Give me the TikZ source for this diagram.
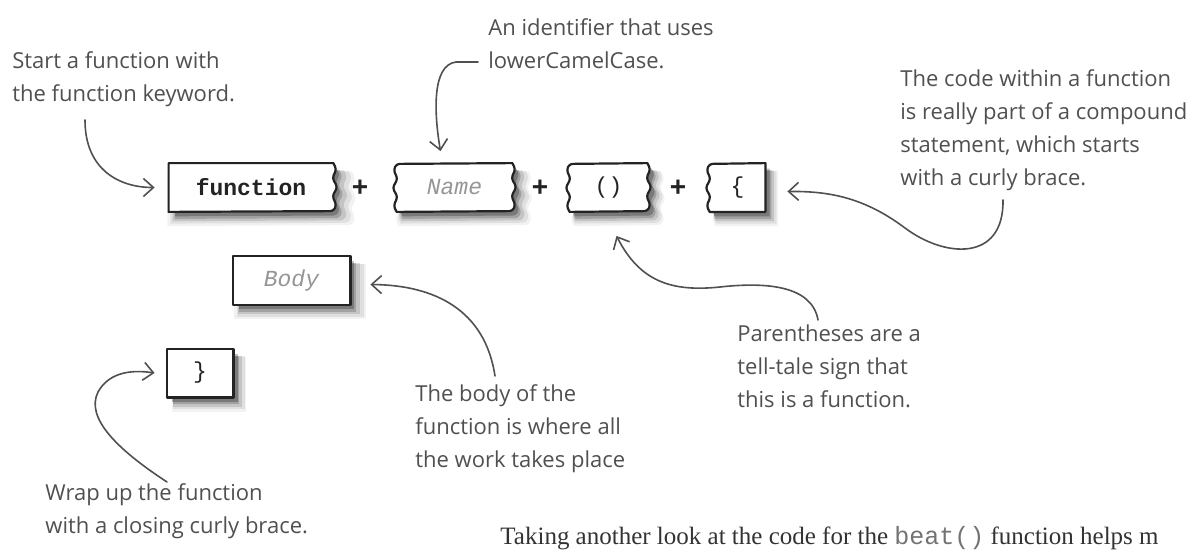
\documentclass[tikz,border=0pt]{standalone}
\usepackage{fontspec}
\setmainfont{Liberation Serif}
\setsansfont{Liberation Sans}
\setmonofont{Liberation Mono}
\newfontfamily\handfont{Open Sans}
\usetikzlibrary{arrows.meta, positioning, shadows, backgrounds}
\definecolor{inkgray}{RGB}{80,80,80}
\definecolor{boxline}{RGB}{35,35,35}
\definecolor{hintgray}{RGB}{150,150,150}

% wavy torn edges of the code slots (48 units high)
\newcommand{\zigdown}{[rounded corners=1.5pt] -- ++(3,6) -- ++(-4,9) -- ++(5,9) -- ++(-5,9) -- ++(4,9) -- ++(-3,6) [sharp corners]}
\newcommand{\zigup}{[rounded corners=1.5pt] -- ++(-3,-6) -- ++(4,-9) -- ++(-5,-9) -- ++(5,-9) -- ++(-4,-9) -- ++(3,-6) [sharp corners]}

\begin{document}
\begin{tikzpicture}[
  x=0.5pt, y=-0.5pt,
  slot/.style={minimum height=24pt, inner sep=0pt, text=boxline,
    font=\ttfamily\fontsize{11.5}{12}\selectfont},
  hint/.style={text=hintgray, font=\ttfamily\itshape\fontsize{11.5}{12}\selectfont},
  softshadow/.style={
    general shadow={fill=black, opacity=0.05, shadow xshift=4pt, shadow yshift=-5pt, shadow scale=1.12},
    general shadow={fill=black, opacity=0.08, shadow xshift=4pt, shadow yshift=-4.5pt, shadow scale=1.08},
    general shadow={fill=black, opacity=0.12, shadow xshift=3.5pt, shadow yshift=-4pt, shadow scale=1.04},
    general shadow={fill=black, opacity=0.18, shadow xshift=3pt, shadow yshift=-3.5pt},
    general shadow={fill=black, opacity=0.25, shadow xshift=2.5pt, shadow yshift=-2.5pt, shadow scale=0.98}},
  boxedge/.style={draw=boxline, line width=1.1pt, fill=white, line join=round, softshadow},
  plussign/.style={font=\sffamily\bfseries\fontsize{14}{14}\selectfont, text=boxline, inner sep=0pt},
  handnote/.style={font=\handfont\fontsize{11}{16.5}\selectfont, text=inkgray,
    align=left, anchor=north west, inner sep=0pt},
  handarrow/.style={draw=inkgray, line width=0.8pt, line cap=round,
    -{Straight Barb[length=5pt, width=9pt]}}
]
\useasboundingbox (0,0) rectangle (1201,552);
\clip (0,0) rectangle (1201,552);

% code slots
\node[slot, minimum width=82pt] (kw) at (251,187.5) {\bfseries function};
\node[slot, hint, minimum width=57.5pt] (name) at (454.5,187.5) {Name};
\node[slot, minimum width=38.5pt] (paren) at (608.5,187.5) {()};
\node[slot, minimum width=27.5pt] (brace) at (737.5,187.5) {\{};
\node[slot, hint, minimum width=58.5pt] (body) at (291.5,280.5) {Body};
\node[slot, minimum width=33pt] (close) at (200,373) {\}};
\foreach \px/\nm in {360/plusa, 540/plusb, 678/plusc}
  \node[plussign] (\nm) at (\px,188) {+};

\begin{scope}[on background layer]
  \draw[boxedge] (kw.north west) -- (kw.north east) \zigdown -- (kw.south west) -- cycle;
  \draw[boxedge] (name.south west) \zigup -- (name.north east) \zigdown -- cycle;
  \draw[boxedge] (paren.south west) \zigup -- (paren.north east) \zigdown -- cycle;
  \draw[boxedge] (brace.south west) \zigup -- (brace.north east) -- (brace.south east) -- cycle;
  \draw[boxedge] (body.south west) rectangle (body.north east);
  \draw[boxedge] (close.south west) rectangle (close.north east);
\end{scope}

% handwritten notes
\node[handnote] (startnote) at (12,51) {Start a function with\\the function keyword.};
\node[handnote] (idnote) at (488,18) {An identifier that uses\\lowerCamelCase.};
\node[handnote] (codenote) at (900,69) {The code within a function\\is really part of a compound\\statement, which starts\\with a curly brace.};
\node[handnote] (parennote) at (737,324) {Parentheses are a\\tell-tale sign that\\this is a function.};
\node[handnote] (bodynote) at (415,384) {The body of the\\function is where all\\the work takes place};
\node[handnote] (wrapnote) at (45,483) {Wrap up the function\\with a closing curly brace.};

% pointers
\coordinate (starttail) at (85,120);
\coordinate (idtail) at (478,62);
\coordinate (codetail) at (1003,200);
\coordinate (parentail) at (818,320);
\coordinate (bodytail) at (495,376);
\coordinate (wraptail) at (167,482);
\draw[handarrow] (starttail) .. controls +(0,50) and +(-35,0) .. ([xshift=-7pt]kw.west);
\draw[handarrow] (idtail) -- ++(-22,0) .. controls +(-25,3) and +(-6,-35) .. ([xshift=-7pt,yshift=6pt]name.north);
\draw[handarrow] (codetail) .. controls (1004,262) and (945,258) .. (905,228)
  .. controls (865,198) and (830,191) .. ([xshift=11pt,yshift=-2pt]brace.east);
\draw[handarrow] (parentail) .. controls (812,285) and (765,282) .. (720,287)
  .. controls (672,292) and (640,282) .. ([xshift=4pt,yshift=-12pt]paren.south);
\draw[handarrow] (bodytail) .. controls (485,310) and (435,285) .. ([xshift=10pt,yshift=-2pt]body.east);
\draw[handarrow] (wraptail) .. controls (118,450) and (85,418) .. (98,392)
  .. controls (108,374) and (128,369) .. ([xshift=-6pt]close.west);

% running text of the page
\node[anchor=base west, inner sep=0pt, text=black!80, font=\fontsize{12.5}{14}\selectfont] (pagetext) at (500,544)
  {Taking another look at the code for the {\color{black!55}\ttfamily beat()} function helps m};
\end{tikzpicture}
\end{document}
